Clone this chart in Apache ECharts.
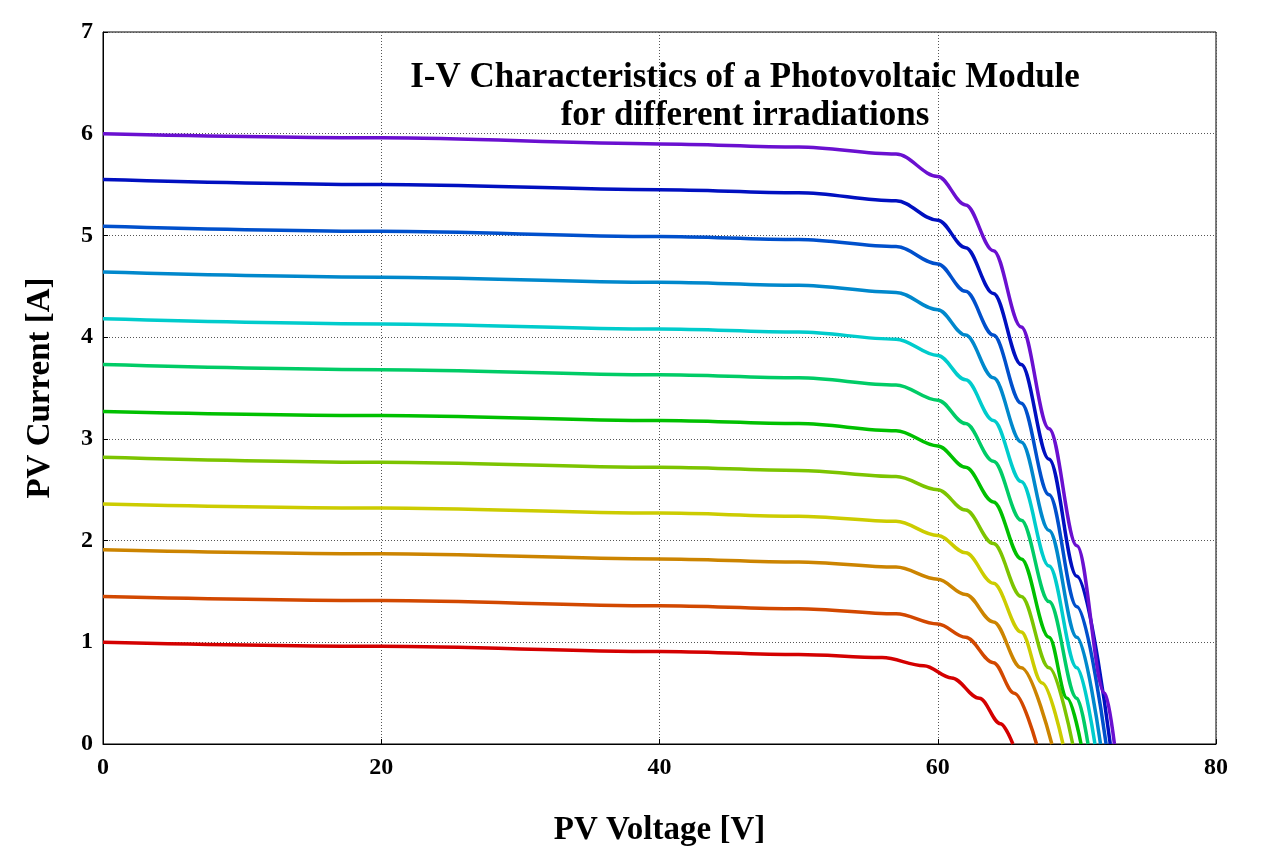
<!DOCTYPE html><html><head><meta charset="utf-8"><script src="https://cdn.jsdelivr.net/npm/echarts@6/dist/echarts.min.js"></script>
<style>body{margin:0;background:#fff}#c{width:1280px;height:852px}</style></head><body><div id="c"></div><script>
const xTicks=[0,20,40,60,80];
const yTicks=[0,1,2,3,4,5,6,7];
const colors=['#d40000','#d24800','#cc8400','#cccc00','#7cc400','#00c000','#00cc66','#00cccc','#0088cc','#0050cc','#0010c0','#6a10d0'];
const c1=[[0,1.0],[20,0.96],[40,0.91],[50,0.88],[56,0.85],[59,0.77],[61,0.65],[63,0.45],[64.5,0.2],[65.4,0]];
const c2=[[0,1.45],[20,1.41],[40,1.36],[50,1.33],[57,1.28],[60,1.18],[62,1.05],[64,0.8],[65.5,0.5],[67.1,0]];
const c3=[[0,1.91],[20,1.87],[40,1.82],[50,1.79],[57,1.74],[60,1.62],[62,1.47],[64,1.2],[66,0.75],[68.2,0]];
const c4=[[0,2.36],[20,2.32],[40,2.27],[50,2.24],[57,2.19],[60,2.05],[62,1.88],[64,1.58],[66,1.1],[67.5,0.6],[69,0]];
const c5=[[0,2.82],[20,2.77],[40,2.72],[50,2.69],[57,2.63],[60,2.5],[62,2.3],[64,1.97],[66,1.45],[68,0.75],[69.7,0]];
const c6=[[0,3.27],[20,3.23],[40,3.18],[50,3.15],[57,3.08],[60,2.93],[62,2.72],[64,2.38],[66,1.82],[68,1.05],[69.3,0.45],[70.3,0]];
const c7=[[0,3.73],[20,3.68],[40,3.63],[50,3.6],[57,3.53],[60,3.38],[62,3.15],[64,2.78],[66,2.2],[68,1.4],[70,0.45],[70.8,0]];
const c8=[[0,4.18],[20,4.13],[40,4.08],[50,4.05],[57,3.98],[60,3.82],[62,3.58],[64,3.18],[66,2.58],[68,1.75],[70,0.75],[71.3,0]];
const c9=[[0,4.64],[20,4.59],[40,4.54],[50,4.51],[57,4.44],[60,4.27],[62,4.02],[64,3.6],[66,2.97],[68,2.1],[70,1.05],[71.7,0]];
const c10=[[0,5.09],[20,5.04],[40,4.99],[50,4.96],[57,4.89],[60,4.72],[62,4.45],[64,4.02],[66,3.35],[68,2.45],[70,1.35],[72.1,0]];
const c11=[[0,5.55],[20,5.5],[40,5.45],[50,5.42],[57,5.34],[60,5.15],[62,4.88],[64,4.43],[66,3.73],[68,2.8],[70,1.65],[72.4,0]];
const c12=[[0,6.0],[20,5.96],[40,5.9],[50,5.87],[57,5.8],[60,5.58],[62,5.3],[64,4.85],[66,4.1],[68,3.1],[70,1.95],[72,0.5],[72.7,0]];
const curves=[c1,c2,c3,c4,c5,c6,c7,c8,c9,c10,c11,c12];
const F='Liberation Serif';
const ch=echarts.init(document.getElementById('c'));
const ax={axisLine:{show:true,lineStyle:{color:'#000'}},axisTick:{inside:true,lineStyle:{color:'#000'}},
 splitLine:{show:true,lineStyle:{color:'#555',type:[1,2]}},axisLabel:{color:'#000',fontFamily:F,fontWeight:'bold',fontSize:24}};
ch.setOption({
 title:{text:'I-V Characteristics of a Photovoltaic Module\nfor different irradiations',left:740,top:54,textAlign:'center',
  textStyle:{fontFamily:F,fontWeight:'bold',fontSize:35,lineHeight:38,color:'#000'}},
 grid:{left:103,right:64,top:32,bottom:107,show:true,borderColor:'#000',borderWidth:1},
 xAxis:Object.assign({type:'value',min:0,max:80,interval:20,name:'PV Voltage [V]',nameLocation:'middle',nameGap:70,
  nameTextStyle:{fontFamily:F,fontWeight:'bold',fontSize:33,color:'#000'}},ax,{axisLabel:Object.assign({},ax.axisLabel,{margin:12})}),
 yAxis:Object.assign({type:'value',min:0,max:7,interval:1,name:'PV Current [A]',nameLocation:'middle',nameGap:46,
  nameTextStyle:{fontFamily:F,fontWeight:'bold',fontSize:33,color:'#000'}},ax,{axisLabel:Object.assign({},ax.axisLabel,{margin:10})}),
 series:curves.map((d,i)=>({type:'line',data:d,smooth:0.35,smoothMonotone:'x',showSymbol:false,lineStyle:{width:3.5,color:colors[i]},color:colors[i]}))
});
</script></body></html>
